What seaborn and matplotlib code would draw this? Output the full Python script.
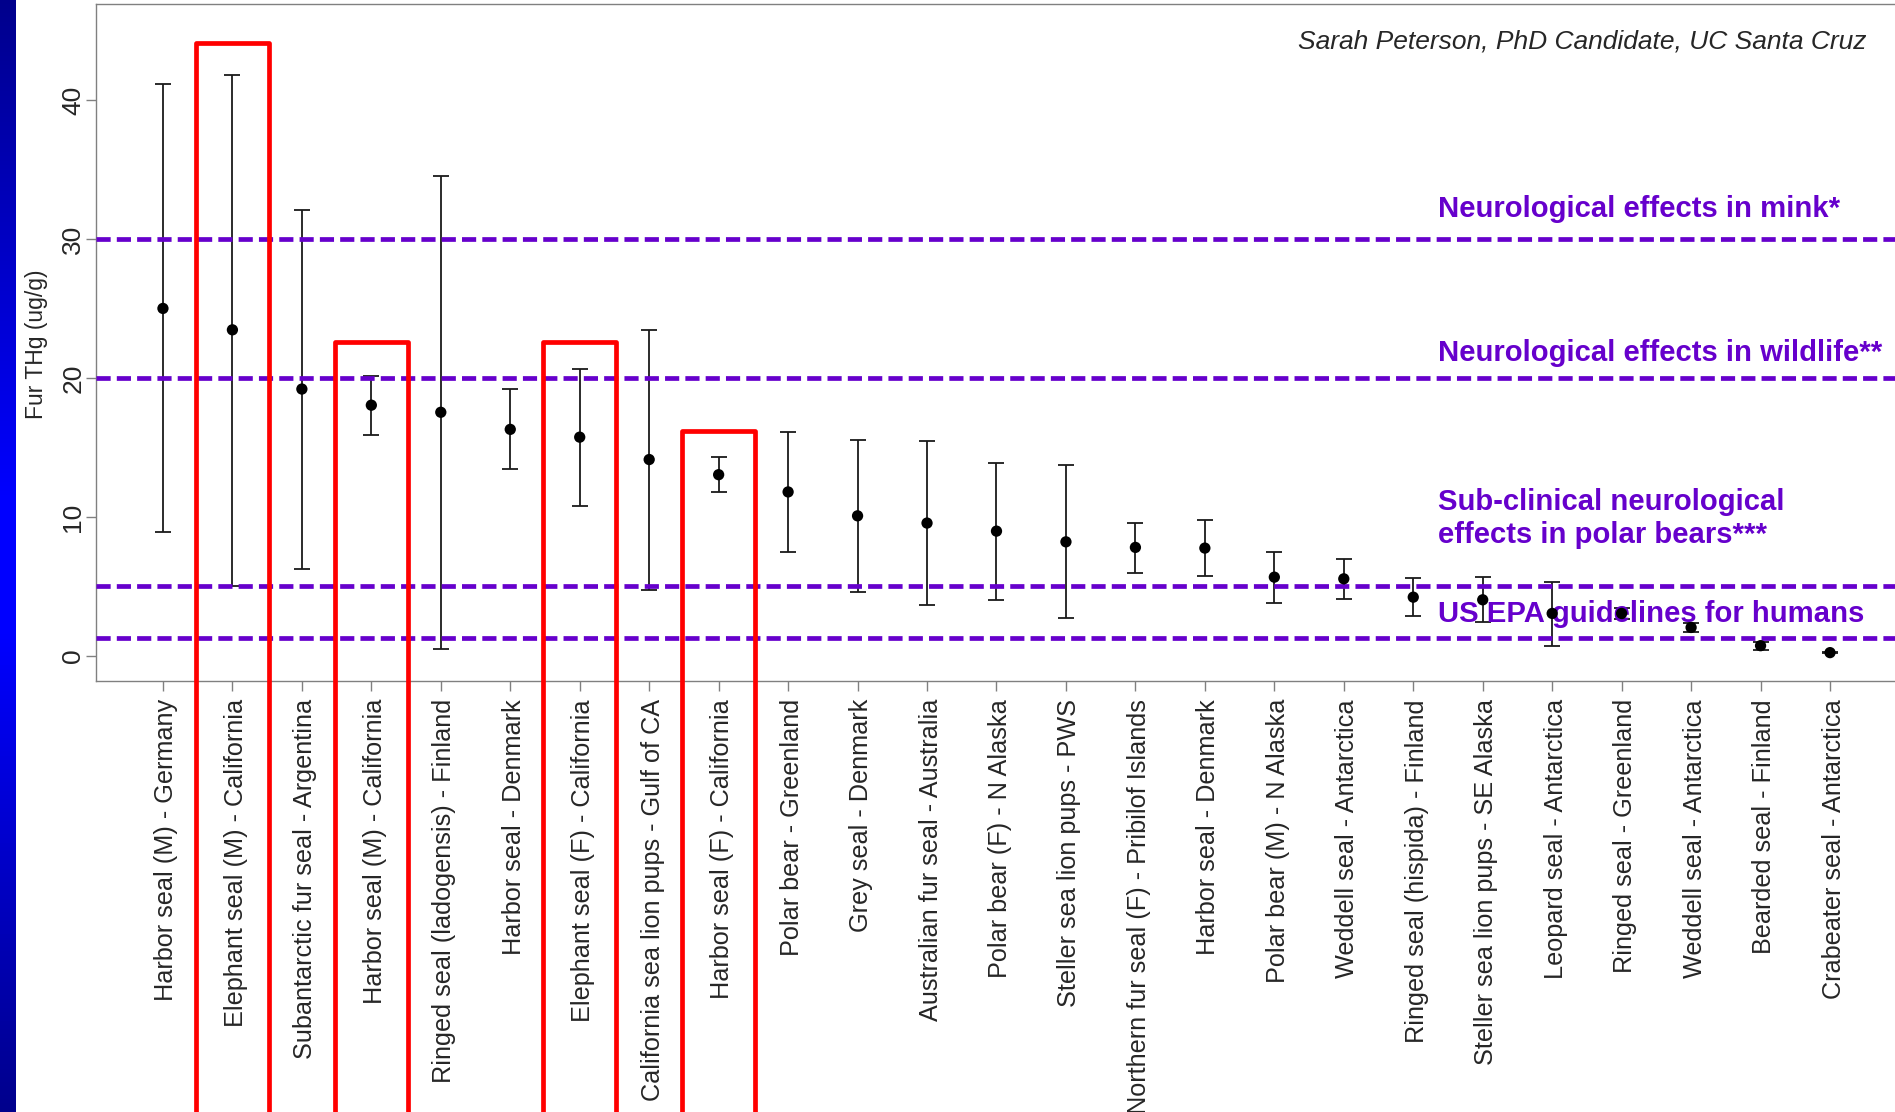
import matplotlib
matplotlib.use("Agg")
import matplotlib.pyplot as plt
import matplotlib.transforms as mtransforms
from matplotlib.colors import LinearSegmentedColormap
import seaborn as sns
import numpy as np
import pandas as pd

# values (Fur THg, ug/g)
labels = [
    "Harbor seal (M) - Germany",
    "Elephant seal (M) - California",
    "Subantarctic fur seal - Argentina",
    "Harbor seal (M) - California",
    "Ringed seal (ladogensis) - Finland",
    "Harbor seal - Denmark",
    "Elephant seal (F) - California",
    "California sea lion pups - Gulf of CA",
    "Harbor seal (F) - California",
    "Polar bear - Greenland",
    "Grey seal - Denmark",
    "Australian fur seal - Australia",
    "Polar bear (F) - N Alaska",
    "Steller sea lion pups - PWS",
    "Northern fur seal (F) - Pribilof Islands",
    "Harbor seal - Denmark",
    "Polar bear (M) - N Alaska",
    "Weddell seal - Antarctica",
    "Ringed seal (hispida) - Finland",
    "Steller sea lion pups - SE Alaska",
    "Leopard seal - Antarctica",
    "Ringed seal - Greenland",
    "Weddell seal - Antarctica",
    "Bearded seal - Finland",
    "Crabeater seal - Antarctica",
]
means = [25.0, 23.46, 19.2, 18.04, 17.53, 16.3, 15.74, 14.13, 13.04, 11.8,
         10.08, 9.56, 8.98, 8.21, 7.81, 7.76, 5.67, 5.55, 4.23, 4.04,
         3.06, 3.06, 2.05, 0.74, 0.24]
upper = [41.15, 41.8, 32.1, 20.16, 34.5, 19.17, 20.67, 23.43, 14.28, 16.1,
         15.57, 15.45, 13.87, 13.75, 9.6, 9.77, 7.49, 6.99, 5.6, 5.67,
         5.31, 3.45, 2.35, 1.0, 0.28]
lower = [8.94, 5.06, 6.28, 15.9, 0.51, 13.43, 10.8, 4.78, 11.8, 7.48,
         4.6, 3.66, 4.04, 2.7, 6.0, 5.74, 3.83, 4.11, 2.87, 2.44,
         0.73, 2.65, 1.75, 0.45, 0.2]

# highlighted California groups (1-based position) and box heights
box_pos = [2, 4, 7, 9]
box_top = [44.07, 22.56, 22.56, 16.15]

# threshold lines and their captions
thresholds = [30, 20, 5, 1.3]
caption_text = ["Neurological effects in mink*",
                "Neurological effects in wildlife**",
                "Sub-clinical neurological",
                "effects in polar bears***",
                "US EPA guidelines for humans"]
caption_y = [31.6, 21.2, 10.5, 8.1, 2.47]

PURPLE = "#6600CC"

sns.set_style("ticks")
plt.rcParams["font.family"] = ["Liberation Sans", "DejaVu Sans"]

df = pd.DataFrame({"pos": np.arange(1, len(labels) + 1), "label": labels,
                   "mean": means, "upper": upper, "lower": lower})

fig = plt.figure(figsize=(18.95, 11.12), dpi=100)

# blue slide strip on the left edge
strip = fig.add_axes([0, 0, 16 / 1895, 1])
blue = LinearSegmentedColormap.from_list(
    "slide", [(0, "#00008C"), (0.45, "#0000FF"), (0.57, "#0000FF"), (1, "#00008C")])
strip.imshow(np.linspace(0, 1, 256).reshape(-1, 1), cmap=blue, aspect="auto")
strip.set_axis_off()

ax = fig.add_axes([0.0508, 0.3876, 0.9501, 0.6092])

ax.errorbar(df["pos"], df["mean"],
            yerr=[df["mean"] - df["lower"], df["upper"] - df["mean"]],
            fmt="none", ecolor="#1a1a1a", elinewidth=1.3, capsize=5.5,
            capthick=1.3, zorder=2)
sns.scatterplot(data=df, x="pos", y="mean", color="black", s=66,
                edgecolor="none", ax=ax, zorder=5)

for t in thresholds:
    ax.axhline(t, color=PURPLE, lw=3.4, dashes=(3.0, 1.3), zorder=3)

for txt, y in zip(caption_text, caption_y):
    ax.text(19.36, y, txt, color=PURPLE, fontsize=21.1, fontweight="bold",
            ha="left", va="baseline", zorder=4)

for p, top in zip(box_pos, box_top):
    ax.plot([p - 0.527, p - 0.527, p + 0.527, p + 0.527], [-40, top, top, -40],
            color="#FF0000", lw=3.4, solid_joinstyle="round", clip_on=False, zorder=6)

ax.text(25.52, 43.67, "Sarah Peterson, PhD Candidate, UC Santa Cruz",
        fontsize=19, fontstyle="italic", ha="right", va="baseline")

ax.set_xlim(0.04, 25.96)
ax.set_ylim(-1.8, 46.93)
ax.set_xticks(df["pos"])
ax.set_xticklabels(df["label"], rotation=90, fontsize=18.2)
ax.set_yticks([0, 10, 20, 30, 40])
ax.set_yticklabels(["0", "10", "20", "30", "40"], rotation=90, va="center", fontsize=19)
ax.tick_params(axis="both", length=7, width=1, color="#808080", direction="out")
ax.tick_params(axis="x", pad=6)
ax.tick_params(axis="y", pad=1)
ax.set_xlabel("")
ax.set_ylabel("")
for side in ["left", "bottom", "top", "right"]:
    ax.spines[side].set_color("#808080")
    ax.spines[side].set_linewidth(1.0)

# nudge rotated category labels so the glyphs sit centred on their ticks
shift = mtransforms.ScaledTranslation(3.5 / 100, 0, fig.dpi_scale_trans)
for lab in ax.get_xticklabels():
    lab.set_transform(lab.get_transform() + shift)

fig.text(37 / 1895, 1 - 344 / 1112, "Fur THg (ug/g)", rotation=90,
         ha="center", va="center", fontsize=16.5)

fig.savefig("out.png", dpi=100)
